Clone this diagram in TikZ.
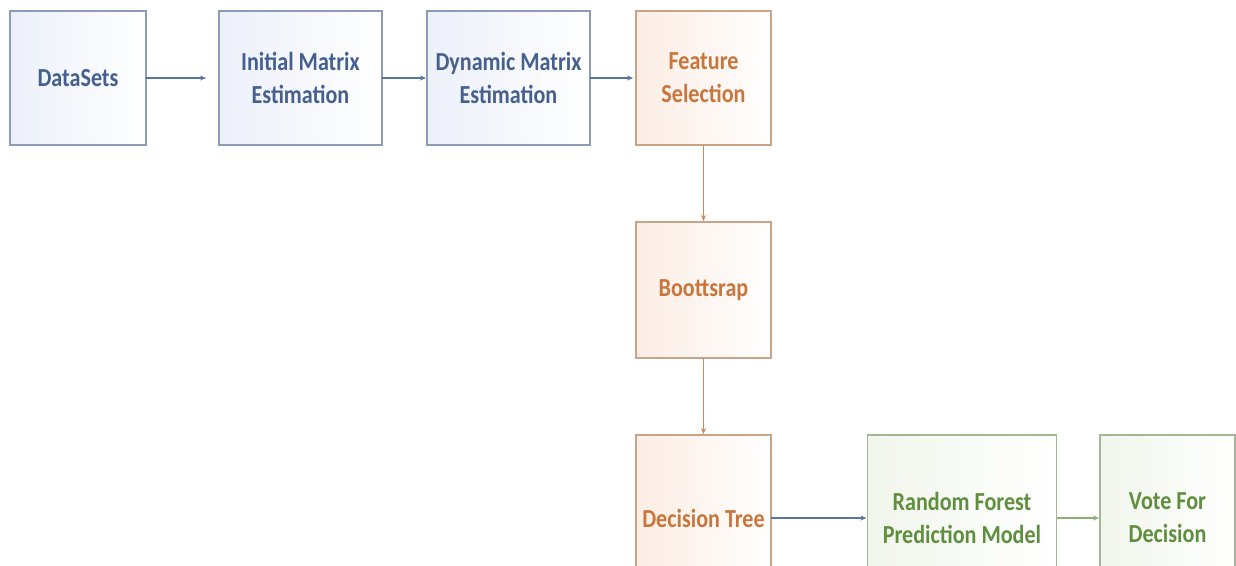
\documentclass[tikz,border=0pt]{standalone}
\usepackage{fontspec}
\setmainfont{Carlito}[FakeStretch=0.85]
\usetikzlibrary{arrows.meta}
\definecolor{bluetxt}{HTML}{44608F}
\definecolor{blueln}{HTML}{8C9BB8}
\definecolor{bluetint}{HTML}{ECF0F9}
\definecolor{bluearr}{HTML}{5874A4}
\definecolor{orgtxt}{HTML}{C8763C}
\definecolor{orgln}{HTML}{C9A486}
\definecolor{orgtint}{HTML}{FCEDE4}
\definecolor{orgarr}{HTML}{D08A55}
\definecolor{grntxt}{HTML}{5F8F3E}
\definecolor{grnln}{HTML}{A2B894}
\definecolor{grntint}{HTML}{F1F6EC}
\definecolor{grnarr}{HTML}{8BAF74}
\tikzset{
  box/.style={draw, line width=1.4pt, inner sep=0pt, outer sep=0pt, align=center,
    font=\fontsize{26}{33}\selectfont\bfseries, shading angle=135},
  bluebox/.style={box, draw=blueln, text=bluetxt, left color=bluetint, right color=white},
  orgbox/.style={box, draw=orgln, text=orgtxt, left color=orgtint, right color=white!96!orgtint},
  grnbox/.style={box, draw=grnln, text=grntxt, left color=grntint, right color=white},
  arr/.style={-{Stealth[length=6pt,width=5pt]}, line width=1.6pt},
}
\begin{document}
\begin{tikzpicture}[x=1pt,y=-1pt]
\clip (0,0) rectangle (1236,565);
\fill[white] (0,0) rectangle (1236,565);
\node[bluebox, minimum width=136, minimum height=134] (ds) at (78,78) {DataSets};
\node[bluebox, minimum width=163, minimum height=134] (ini) at (300.5,78) {Initial Matrix\\Estimation};
\node[bluebox, minimum width=163, minimum height=134] (dyn) at (508.5,78) {Dynamic Matrix\\Estimation};
\node[orgbox, minimum width=135, minimum height=134] (fs) at (703.5,78) {Feature\\Selection};
\node[orgbox, minimum width=135, minimum height=136] (bs) at (703.5,290) {Boottsrap};
\node[orgbox, minimum width=135, minimum height=166] (dt) at (703.5,518) {Decision Tree};
\node[grnbox, minimum width=189, minimum height=166] (rf) at (962,518) {Random Forest\\Prediction Model};
\node[grnbox, minimum width=135, minimum height=166] (vd) at (1167.5,518) {Vote For\\Decision};
\draw[arr, bluearr, shorten >=13pt] (ds.east) -- (ini.west);
\draw[arr, bluearr, shorten >=1pt] (ini.east) -- (dyn.west);
\draw[arr, bluearr, shorten >=3pt] (dyn.east) -- (fs.west);
\draw[arr, orgarr, shorten >=1pt] (fs.south) -- (bs.north);
\draw[arr, orgarr, shorten >=1pt] (bs.south) -- (dt.north);
\draw[arr, bluearr, shorten >=1pt] (dt.east) -- (rf.west);
\draw[arr, grnarr, shorten >=1pt] (rf.east) -- (vd.west);
\end{tikzpicture}
\end{document}
